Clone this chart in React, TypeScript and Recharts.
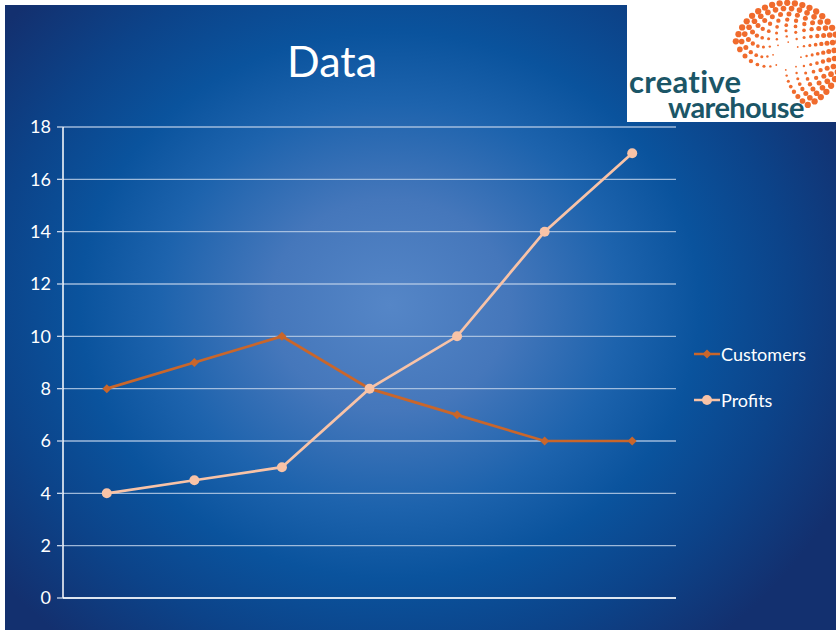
import React from "react";
import { LineChart, Line, XAxis, YAxis, CartesianGrid } from "recharts";

// Chart values
const periods = ["1", "2", "3", "4", "5", "6", "7"];
const customers = [8, 9, 10, 8, 7, 6, 6];
const profits = [4, 4.5, 5, 8, 10, 14, 17];
const yTicks = [0, 2, 4, 6, 8, 10, 12, 14, 16, 18];
const xTicks = [0, 1, 2, 3, 4, 5, 6, 7];

const FONT = "Lato, 'Open Sans', sans-serif";
const CUSTOMERS_COLOR = "#c9662b";
const PROFITS_COLOR = "#f8c3a7";

// numeric x so the tick marks fall between categories like the original
const chartData = periods.map((p, i) => ({
  x: i + 0.5,
  period: p,
  Customers: customers[i],
  Profits: profits[i],
}));

// eslint-disable-next-line @typescript-eslint/no-explicit-any
const Diamond = (props: any) => {
  const { cx, cy } = props;
  if (cx == null || cy == null) return null;
  const s = 4.5;
  return (
    <path
      d={`M${cx},${cy - s} L${cx + s},${cy} L${cx},${cy + s} L${cx - s},${cy} Z`}
      fill={CUSTOMERS_COLOR}
    />
  );
};

const Logo = () => {
  // orange dotted swirl (decoration only)
  const dots: { x: number; y: number; r: number }[] = [];
  for (let ring = 0; ring < 8; ring++) {
    const rad = 14 + ring * 5.6;
    const count = 8 + ring * 3;
    const start = -220 + ring * 8;
    const end = 95 - ring * 4;
    for (let k = 0; k < count; k++) {
      const a = ((start + ((end - start) * k) / (count - 1)) * Math.PI) / 180;
      dots.push({
        x: 160 + rad * Math.cos(a),
        y: 56 + rad * Math.sin(a),
        r: 0.9 + ring * 0.32,
      });
    }
  }
  return (
    <svg width={209} height={122} style={{ display: "block" }}>
      <rect x={0} y={0} width={209} height={122} fill="#ffffff" />
      {dots.map((d, i) => (
        <circle key={i} cx={d.x} cy={d.y} r={d.r} fill="#f06b2d" />
      ))}
      <text
        x={2}
        y={93}
        fontFamily={FONT}
        fontWeight={700}
        fontSize={31}
        fill="#1b5667"
        letterSpacing={0.3}
      >
        creative
      </text>
      <text
        x={41}
        y={118}
        fontFamily={FONT}
        fontWeight={700}
        fontSize={29}
        fill="#1b5667"
        letterSpacing={-0.6}
      >
        warehouse
      </text>
    </svg>
  );
};

const LegendItem = ({
  label,
  color,
  marker,
}: {
  label: string;
  color: string;
  marker: "diamond" | "circle";
}) => (
  <div style={{ display: "flex", alignItems: "center", height: 24 }}>
    <svg width={26} height={12} style={{ marginRight: 1 }}>
      <line x1={0} y1={6} x2={26} y2={6} stroke={color} strokeWidth={2.5} />
      {marker === "diamond" ? (
        <path d="M13,1.5 L17.5,6 L13,10.5 L8.5,6 Z" fill={color} />
      ) : (
        <circle cx={13} cy={6} r={5} fill={color} />
      )}
    </svg>
    <span style={{ color: "#ffffff", fontFamily: FONT, fontSize: 18 }}>
      {label}
    </span>
  </div>
);

const App = () => {
  return (
    <div
      style={{
        position: "absolute",
        left: 0,
        top: 0,
        width: 836,
        height: 630,
        background: "#ffffff",
        overflow: "hidden",
      }}
    >
      <div
        style={{
          position: "absolute",
          left: 5,
          top: 5,
          width: 831,
          height: 625,
          background:
            "radial-gradient(ellipse 500px 440px at 385px 300px, #5586c7 0%, #4577bb 24%, #1d63ad 46%, #0a539d 62%, #0c4389 80%, #13306f 100%)",
        }}
      />

      {/* Title */}
      <div
        style={{
          position: "absolute",
          left: 232,
          top: 35,
          width: 200,
          textAlign: "center",
          color: "#ffffff",
          fontFamily: FONT,
          fontSize: 43,
        }}
      >
        Data
      </div>

      <div style={{ position: "absolute", left: 0, top: 0 }}>
        <LineChart
          width={836}
          height={630}
          data={chartData}
          margin={{ top: 127, right: 160, left: 20, bottom: 12 }}
        >
          <CartesianGrid
            horizontal
            vertical={false}
            stroke="#b9cde6"
            strokeWidth={1.3}
            strokeOpacity={0.85}
          />
          <XAxis
            dataKey="x"
            type="number"
            domain={[0, 7]}
            ticks={xTicks}
            tick={false}
            tickSize={5}
            height={20}
            stroke="#ffffff"
            axisLine={{ stroke: "#ffffff", strokeWidth: 1.5 }}
            tickLine={{ stroke: "#c8d6ea", strokeWidth: 1.3 }}
          />
          <YAxis
            domain={[0, 18]}
            ticks={yTicks}
            interval={0}
            width={43}
            tickSize={6}
            axisLine={{ stroke: "#ffffff", strokeWidth: 1.5 }}
            tickLine={{ stroke: "#c8d6ea", strokeWidth: 1.3 }}
            tick={{ fill: "#ffffff", fontSize: 18, fontFamily: FONT }}
            tickMargin={6}
          />
          <Line
            dataKey="Customers"
            stroke={CUSTOMERS_COLOR}
            strokeWidth={2.7}
            dot={<Diamond />}
            activeDot={false}
            isAnimationActive={false}
          />
          <Line
            dataKey="Profits"
            stroke={PROFITS_COLOR}
            strokeWidth={2.7}
            dot={{ r: 5, fill: PROFITS_COLOR, stroke: "none" }}
            activeDot={false}
            isAnimationActive={false}
          />
        </LineChart>
      </div>

      {/* Legend */}
      <div style={{ position: "absolute", left: 694, top: 342 }}>
        <LegendItem label="Customers" color={CUSTOMERS_COLOR} marker="diamond" />
        <div style={{ height: 22 }} />
        <LegendItem label="Profits" color={PROFITS_COLOR} marker="circle" />
      </div>

      {/* Logo */}
      <div style={{ position: "absolute", left: 627, top: 0 }}>
        <Logo />
      </div>
    </div>
  );
};

export default App;
